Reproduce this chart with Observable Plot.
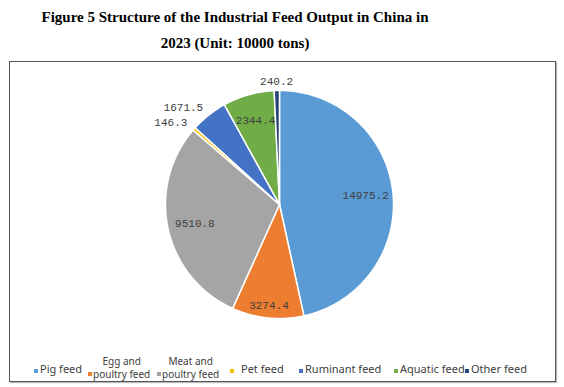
<!DOCTYPE html>
<html>
<head>
<meta charset="utf-8">
<script src="https://cdn.jsdelivr.net/npm/d3@7"></script>
<script src="https://cdn.jsdelivr.net/npm/@observablehq/plot@0.6"></script>
<style>
  html, body { margin: 0; padding: 0; background: #fff; }
  body { width: 564px; height: 387px; position: relative; overflow: hidden; }
  #title {
    position: absolute; left: 0; top: 4px; width: 470px; text-align: center;
    font-family: "Liberation Serif", "Times New Roman", serif; font-weight: bold;
    font-size: 15px; line-height: 26px; color: #000;
  }
  #frame {
    position: absolute; left: 9px; top: 61px; width: 545px; height: 319px;
    border: 1px solid #555; box-shadow: 1px 1px 1px #bbb;
  }
  #chart { position: absolute; left: 0; top: 0; }
  #legend { position: absolute; left: 0; top: 0; width: 545px; height: 319px; pointer-events: none; }
  .item {
    position: absolute; display: flex; align-items: center;
    font-family: "Noto Sans", sans-serif; font-size: 11px; color: #404040;
  }
  .item .sw { width: 4px; height: 4px; margin-right: 2px; margin-top: 4px; flex: none; }
  .item .tx { text-align: center; line-height: 13px; white-space: nowrap; }
  .item .tx div { height: 13px; line-height: 13px; }
  .item.two .tx { font-size: 10px; }
</style>
</head>
<body>
<div id="title">Figure 5 Structure of the Industrial Feed Output in China in<br>2023 (Unit: 10000 tons)</div>
<div id="frame"><div id="chart"></div><div id="legend"></div></div>
<script>
// ---- data ----
const categories = ["Pig feed", "Egg and poultry feed", "Meat and poultry feed", "Pet feed", "Ruminant feed", "Aquatic feed", "Other feed"];
const values = [14975.2, 3274.4, 9510.8, 146.3, 1671.5, 2344.4, 240.2];
const colors = ["#5B9BD5", "#ED7D31", "#A5A5A5", "#FFC000", "#4472C4", "#70AD47", "#264478"];
const legendLines = [["Pig feed"], ["Egg and", "poultry feed"], ["Meat and", "poultry feed"], ["Pet feed"], ["Ruminant feed"], ["Aquatic feed"], ["Other feed"]];

// ---- layout ----
const W = 545, H = 290, R = 114, cx = 269, cy = 142;
const legendLeft = [24, 78, 147, 220, 289, 384, 455];
const legendGap = [2, 1, 1, 7, 2, 2, 2];
const legendTop = 300;

const rows = categories.map((c, i) => ({cat: c, value: values[i]}));
const arcs = d3.pie().sort(null).value(d => d.value)(rows);
const total = d3.sum(values);

// polygon points per slice (unit circle, angles clockwise from 12 o'clock)
const pts = [];
arcs.forEach(a => {
  pts.push({cat: a.data.cat, x: 0, y: 0});
  const n = Math.max(2, Math.ceil((a.endAngle - a.startAngle) / (Math.PI / 360)));
  for (let k = 0; k <= n; k++) {
    const t = a.startAngle + (a.endAngle - a.startAngle) * k / n;
    pts.push({cat: a.data.cat, x: Math.sin(t), y: Math.cos(t)});
  }
});

// labels: inside for large slices, outside for small ones
const labels = arcs.map(a => {
  const mid = (a.startAngle + a.endAngle) / 2;
  const theta = a.endAngle - a.startAngle;
  const share = a.data.value / total;
  const inside = share >= 0.06;
  let f = 1.08;
  if (inside) {
    const need = 64 / (2 * R * Math.sin(theta / 2));
    f = theta > 0.6 ? Math.min(0.9, Math.max(0.76, need)) : 0.77;
  }
  const s = Math.sin(mid);
  return {
    text: a.data.value.toFixed(1), x: f * s, y: f * Math.cos(mid),
    anchor: inside ? "middle" : (s < -0.3 ? "end" : (s > 0.3 ? "start" : "middle"))
  };
});

const lblStyle = {fontFamily: "Liberation Mono, monospace", fontSize: 11, fill: "#404040"};

const plot = Plot.plot({
  width: W, height: H,
  marginLeft: 0, marginRight: 0, marginTop: 0, marginBottom: 0,
  x: {domain: [-cx / R, (W - cx) / R], axis: null},
  y: {domain: [-(H - cy) / R, cy / R], axis: null},
  color: {domain: categories, range: colors},
  style: {background: "none", overflow: "visible"},
  marks: [
    Plot.line(pts, {x: "x", y: "y", z: "cat", fill: "cat", stroke: "white", strokeWidth: 1.5, curve: "linear-closed"}),
    ...["middle", "start", "end"].map(anc =>
      Plot.text(labels.filter(d => d.anchor === anc), {x: "x", y: "y", text: "text", textAnchor: anc, ...lblStyle}))
  ]
});
document.getElementById("chart").appendChild(plot);

// legend
const lg = document.getElementById("legend");
categories.forEach((c, i) => {
  const it = document.createElement("div");
  const lines = legendLines[i];
  it.className = "item" + (lines.length > 1 ? " two" : "");
  it.style.left = legendLeft[i] + "px";
  it.style.top = (lines.length > 1 ? legendTop - 7 : legendTop) + "px";
  const sw = document.createElement("span");
  sw.className = "sw"; sw.style.background = colors[i];
  sw.style.marginRight = legendGap[i] + "px";
  if (lines.length > 1) sw.style.marginTop = "12px";
  const tx = document.createElement("div");
  tx.className = "tx";
  lines.forEach(l => { const d = document.createElement("div"); d.textContent = l; tx.appendChild(d); });
  it.appendChild(sw); it.appendChild(tx);
  lg.appendChild(it);
});
</script>
</body>
</html>
